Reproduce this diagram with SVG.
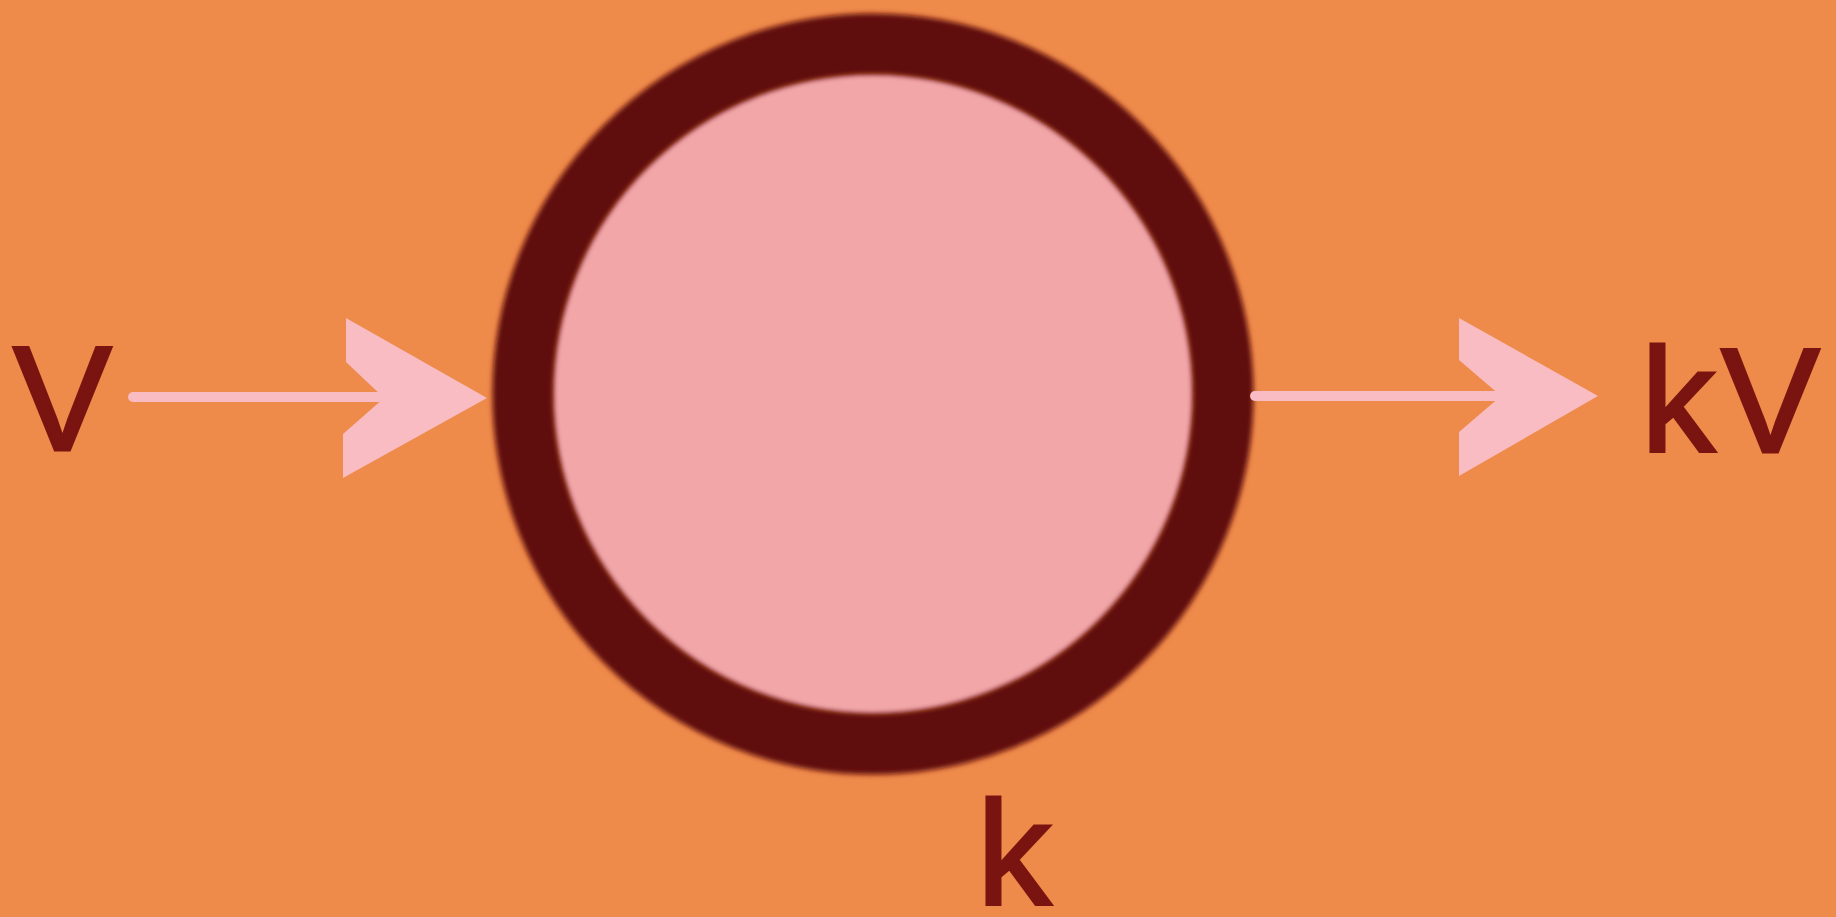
<svg xmlns="http://www.w3.org/2000/svg" width="1836" height="917" viewBox="0 0 1836 917">
  <defs>
    <style>
      .lbl { font-family: "Liberation Sans", Arial, sans-serif; font-size: 148px; fill: #7a1410; stroke: #7a1410; stroke-width: 3; }
      .shaft { stroke: #f8bcc2; stroke-width: 10; stroke-linecap: round; fill: none; }
      .head { fill: #f8bcc2; }
    </style>
    <filter id="soft" x="-10%" y="-10%" width="120%" height="120%">
      <feGaussianBlur stdDeviation="2.5"/>
    </filter>
  </defs>
  <rect width="1836" height="917" fill="#ee8a4a"/>

  <g id="node-k">
    <circle cx="873" cy="394" r="320" fill="#f2a6a8"/>
    <circle cx="873" cy="394" r="350" fill="none" stroke="#600a0c" stroke-width="61" filter="url(#soft)"/>
    <text class="lbl" x="977" y="905">k</text>
  </g>

  <g id="input-V">
    <text class="lbl" x="13" y="450">V</text>
  </g>

  <g id="output-kV">
    <text class="lbl" x="1641" y="452" letter-spacing="6">kV</text>
  </g>

  <g id="connectors">
    <line class="shaft" x1="133" y1="397" x2="390" y2="397"/>
    <path class="head" d="M346,318 L487,398 L343,478 L343,434 L384,398 L346,362 Z"/>
    <line class="shaft" x1="1255" y1="396" x2="1505" y2="396"/>
    <path class="head" d="M1459,318 L1598,396 L1459,476 L1459,432 L1501,396 L1459,360 Z"/>
  </g>
</svg>
